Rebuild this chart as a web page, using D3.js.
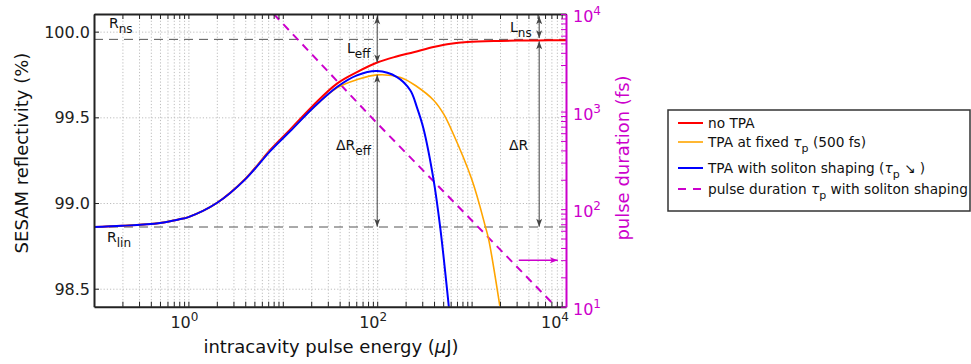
<!DOCTYPE html>
<html>
<head>
<meta charset="utf-8">
<script src="https://cdn.jsdelivr.net/npm/d3@7"></script>
<style>
  body { margin: 0; background: #fff; }
  svg { font-family: "DejaVu Sans", sans-serif; }
  .grid line { stroke: #bdbdbd; stroke-dasharray: 1.2,2; }
  .grid path { display: none; }
</style>
</head>
<body>
<svg id="chart" width="971" height="364"></svg>
<script>
// values
var energyNoTPA = [0.1, 0.2, 0.5, 0.8, 1, 2, 4, 7.35, 12, 21, 37.5, 61, 100, 160, 243, 394, 600, 900, 2000, 5000, 10000];
var reflNoTPA   = [98.860, 98.867, 98.884, 98.905, 98.918, 99.0, 99.14, 99.31, 99.43, 99.57, 99.697, 99.764, 99.82, 99.855, 99.88, 99.91, 99.93, 99.94, 99.946, 99.949, 99.95];

var energyFixed = [0.1, 0.2, 0.5, 0.8, 1, 2, 4, 7.35, 12, 21, 37.5, 61, 100, 177, 263, 396, 505, 620, 1010, 1400, 1520, 1990];
var reflFixed   = [98.860, 98.867, 98.884, 98.905, 98.918, 99.0, 99.14, 99.305, 99.42, 99.555, 99.672, 99.72, 99.748, 99.733, 99.68, 99.60, 99.52, 99.42, 99.134, 98.862, 98.785, 98.40];

var energySoliton = [0.1, 0.2, 0.5, 0.8, 1, 2, 4, 7.35, 12, 21, 37.5, 61, 100, 162, 224, 263, 309, 396, 464, 575];
var reflSoliton   = [98.860, 98.867, 98.884, 98.905, 98.918, 99.0, 99.138, 99.303, 99.42, 99.556, 99.677, 99.745, 99.77, 99.735, 99.658, 99.56, 99.435, 99.134, 98.862, 98.39];

var energyPulse = [8.0, 99.5, 413, 7800];
var pulseDuration = [10000, 760, 185, 10];

var R_lin = 98.86, R_ns = 99.955;

var leftTicks = [98.5, 99.0, 99.5, 100.0];
var bottomLabels = [1, 100, 10000];
var rightLabels = [10, 100, 1000, 10000];

var legendLabels = ["no TPA", "TPA at fixed", "TPA with soliton shaping (", "pulse duration "];

var svg = d3.select("#chart");
var pL = 94, pR = 566, pT = 14, pB = 306.7;
var magenta = "#cc00cc";

var x = d3.scaleLog().domain([0.1, 1e4]).range([pL, pR]);
var y = d3.scaleLinear().domain([98.395, 100.103]).range([pB, pT]);
var yR = d3.scaleLog().domain([10, 1e4]).range([pB, pT]);

var defs = svg.append("defs");
defs.append("clipPath").attr("id", "clip")
  .append("rect").attr("x", pL).attr("y", pT)
  .attr("width", pR - pL).attr("height", pB - pT);

function marker(id, col) {
  defs.append("marker").attr("id", id)
    .attr("viewBox", "-9 -5 10 10").attr("refX", 0).attr("refY", 0)
    .attr("markerUnits", "userSpaceOnUse")
    .attr("markerWidth", 10).attr("markerHeight", 10)
    .attr("orient", "auto-start-reverse")
    .append("path").attr("d", "M-8,-3 L0,0 L-8,3 L-6,0 Z").attr("fill", col);
}
marker("ah", "#444");
marker("ahm", magenta);

// grid
svg.append("g").attr("class", "grid")
  .attr("transform", `translate(0,${pB})`)
  .call(d3.axisBottom(x).tickSize(-(pB - pT)).tickFormat(""))
  .selectAll(".tick").filter(d => d <= 0.1 || d >= 1e4).remove();
svg.append("g").attr("class", "grid")
  .attr("transform", `translate(${pL},0)`)
  .call(d3.axisLeft(y).tickValues(leftTicks).tickSize(-(pR - pL)).tickFormat(""));

// reference dashed lines
[R_ns, R_lin].forEach(function(v) {
  svg.append("line")
    .attr("x1", pL).attr("x2", pR).attr("y1", y(v)).attr("y2", y(v))
    .attr("stroke", "#555").attr("stroke-width", 1).attr("stroke-dasharray", "9,6");
});

var plot = svg.append("g").attr("clip-path", "url(#clip)");

function series(xs, ys, sc) {
  return xs.map((e, i) => [x(e), sc(ys[i])]);
}
var straight = d3.line();
var smooth = d3.line().curve(d3.curveCatmullRom.alpha(0.5));

plot.append("path").attr("d", straight(series(energyPulse, pulseDuration, yR)))
  .attr("fill", "none").attr("stroke", magenta).attr("stroke-width", 2)
  .attr("stroke-dasharray", "8,6");
plot.append("path").attr("d", smooth(series(energyNoTPA, reflNoTPA, y)))
  .attr("fill", "none").attr("stroke", "#ff0000").attr("stroke-width", 2);
plot.append("path").attr("d", smooth(series(energyFixed, reflFixed, y)))
  .attr("fill", "none").attr("stroke", "#ffa500").attr("stroke-width", 1.6);
plot.append("path").attr("d", smooth(series(energySoliton, reflSoliton, y)))
  .attr("fill", "none").attr("stroke", "#0000ff").attr("stroke-width", 2);

// annotation arrows
function arrow(e, v1, v2, both, sc, col, mk) {
  svg.append("line")
    .attr("x1", x(e)).attr("x2", x(e)).attr("y1", sc(v1)).attr("y2", sc(v2))
    .attr("stroke", col || "#444").attr("stroke-width", 1)
    .attr("marker-end", `url(#${mk || "ah"})`)
    .attr("marker-start", both ? `url(#${mk || "ah"})` : null);
}
arrow(100, 100.09, 99.82, true, y);
arrow(100, 98.862, 99.748, true, y);
arrow(5200, 100.09, 99.962, true, y);
arrow(5200, 98.862, 99.944, true, y);

svg.append("line")
  .attr("x1", x(3160)).attr("x2", x(8200)).attr("y1", yR(30)).attr("y2", yR(30))
  .attr("stroke", magenta).attr("stroke-width", 1.5).attr("marker-end", "url(#ahm)");

function subText(px, py, main, sub, pre) {
  var t = svg.append("text").attr("x", px).attr("y", py).attr("font-size", 14).attr("fill", "#111");
  if (pre) t.append("tspan").text(pre);
  t.append("tspan").text(main);
  t.append("tspan").attr("dy", 5).attr("font-size", 12).text(sub);
}
subText(109, 28, "R", "ns");
subText(107, 242, "R", "lin");
subText(347, 53, "L", "eff");
subText(336, 150, "R", "eff", "\u0394");
subText(510, 32, "L", "ns");
svg.append("text").attr("x", 509).attr("y", 150).attr("font-size", 14).attr("fill", "#111").text("\u0394R");

// frame and axes
var tl = 5;
var xb = svg.append("g").attr("transform", `translate(0,${pB})`)
  .call(d3.axisBottom(x).tickSizeInner(-tl).tickSizeOuter(0).tickFormat(""));
var xt = svg.append("g").attr("transform", `translate(0,${pT})`)
  .call(d3.axisTop(x).tickSizeInner(-tl).tickSizeOuter(0).tickFormat(""));
var yl = svg.append("g").attr("transform", `translate(${pL},0)`)
  .call(d3.axisLeft(y).tickValues(leftTicks).tickSizeInner(-tl).tickSizeOuter(0).tickFormat(""));
var yr = svg.append("g").attr("transform", `translate(${pR},0)`)
  .call(d3.axisRight(yR).tickSizeInner(-tl).tickSizeOuter(0).tickFormat(""));
[xb, xt, yl].forEach(g => {
  g.selectAll("path").attr("stroke", "#222").attr("stroke-width", 2);
  g.selectAll("line").attr("stroke", "#222");
});
yr.selectAll("path").attr("stroke", magenta).attr("stroke-width", 2);
yr.selectAll("line").attr("stroke", magenta);

// tick labels
svg.selectAll(".ylab").data(leftTicks).join("text")
  .attr("x", pL - 4).attr("y", d => y(d) + 6)
  .attr("text-anchor", "end").attr("font-size", 16).attr("fill", "#222")
  .text(d => d.toFixed(1));

function powLabel(g, v, anchor, col) {
  var t = g.append("text").attr("font-size", 16).attr("fill", col).attr("text-anchor", anchor);
  t.append("tspan").text("10");
  t.append("tspan").attr("dy", -7).attr("font-size", 12).text(Math.round(Math.log10(v)));
  return t;
}
bottomLabels.forEach(v => {
  powLabel(svg, v, "middle", "#222").attr("x", Math.min(x(v) - 4, pR - 11)).attr("y", 328);
});
rightLabels.forEach(v => {
  powLabel(svg, v, "start", magenta).attr("x", pR + 7).attr("y", yR(v) + 8);
});

// axis titles
var xtitle = svg.append("text").attr("x", 331).attr("y", 353)
  .attr("text-anchor", "middle").attr("font-size", 18).attr("fill", "#111");
xtitle.append("tspan").text("intracavity pulse energy (");
xtitle.append("tspan").attr("font-style", "italic").text("\u03bc");
xtitle.append("tspan").text("J)");

svg.append("text").attr("transform", "translate(28,153) rotate(-90)")
  .attr("text-anchor", "middle").attr("font-size", 18).attr("fill", "#111")
  .text("SESAM reflectivity (%)");
svg.append("text").attr("transform", "translate(629,158) rotate(-90)")
  .attr("text-anchor", "middle").attr("font-size", 18).attr("fill", magenta)
  .text("pulse duration (fs)");

// legend
var lg = svg.append("g");
lg.append("rect").attr("x", 668).attr("y", 110).attr("width", 302).attr("height", 101)
  .attr("fill", "#fff").attr("stroke", "#333").attr("stroke-width", 1.5);
var rows = [
  {y: 123, col: "#ff0000", w: 2, dash: null},
  {y: 142, col: "#ffa500", w: 1.6, dash: null},
  {y: 168, col: "#0000ff", w: 2, dash: null},
  {y: 189, col: magenta, w: 2, dash: "8,7"}
];
rows.forEach(function(r, i) {
  lg.append("line").attr("x1", 678).attr("x2", 703).attr("y1", r.y).attr("y2", r.y)
    .attr("stroke", r.col).attr("stroke-width", r.w).attr("stroke-dasharray", r.dash);
  var t = lg.append("text").attr("x", 708).attr("y", r.y + 5).attr("font-size", 13.7).attr("fill", "#111");
  t.append("tspan").text(legendLabels[i]);
  if (i > 0) {
    t.append("tspan").attr("font-style", "italic").text(i == 1 ? " \u03c4" : "\u03c4");
    t.append("tspan").attr("dy", 5).attr("font-size", 11).text("p");
    t.append("tspan").attr("dy", -5)
      .text(i == 1 ? " (500 fs)" : i == 2 ? " \u2198 )" : " with soliton shaping");
  }
});
</script>
</body>
</html>
